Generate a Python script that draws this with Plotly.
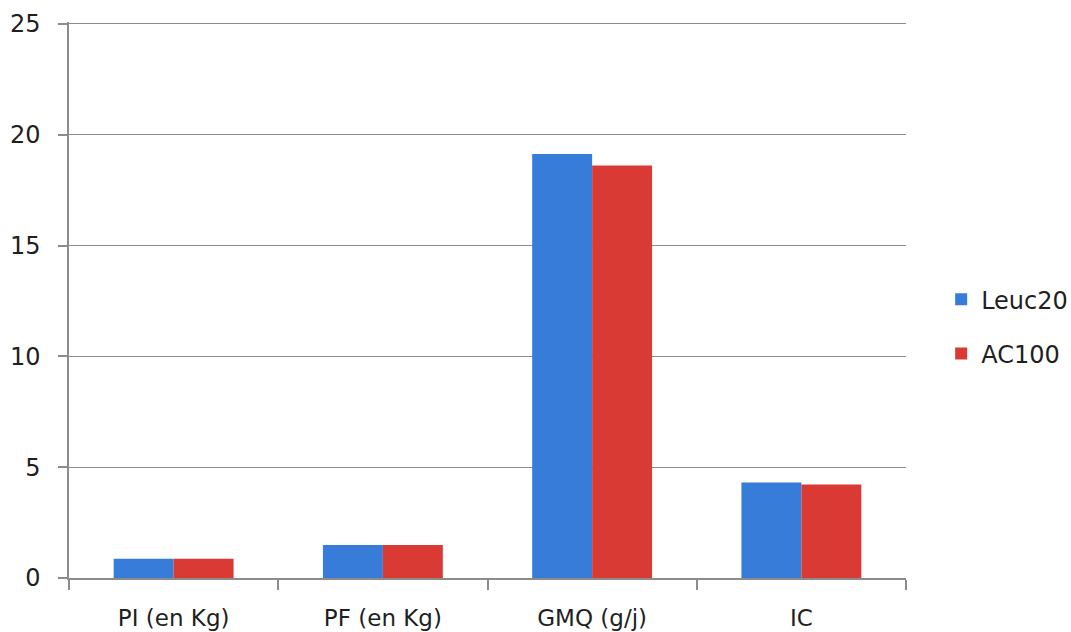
import plotly.graph_objects as go

categories = ["PI (en Kg)", "PF (en Kg)", "GMQ (g/j)", "IC"]
leuc20 = [0.87, 1.49, 19.13, 4.31]
ac100 = [0.87, 1.49, 18.62, 4.22]

family = "DejaVu Sans, Verdana, sans-serif"
ink = "#1f1f1f"
axis_grey = "#8c8c8c"

fig = go.Figure()
fig.add_trace(go.Bar(name="Leuc20", x=categories, y=leuc20,
                     marker=dict(color="#367CD8", line=dict(width=0)),
                     legendgroup="a"))
fig.add_trace(go.Bar(name="AC100", x=categories, y=ac100,
                     marker=dict(color="#D93A34", line=dict(width=0)),
                     legendgroup="b"))

fig.update_layout(
    width=1071, height=632,
    margin=dict(l=69, r=165, t=22, b=54, autoexpand=False),
    paper_bgcolor="white", plot_bgcolor="white",
    font=dict(family=family, size=20, color=ink),
    barmode="group", bargap=0.427, bargroupgap=0,
    showlegend=True,
    legend=dict(x=1.042, xanchor="left", y=0.452, yanchor="middle",
                xref="paper", yref="paper",
                font=dict(family=family, size=24, color=ink),
                tracegroupgap=20, itemwidth=30,
                bgcolor="rgba(0,0,0,0)"),
)
fig.update_xaxes(
    type="category", showline=True, linecolor=axis_grey, linewidth=1.5,
    ticks="outside", tickson="boundaries", ticklen=10, tickcolor=axis_grey,
    tickwidth=1.5, showgrid=False, ticklabelstandoff=19, automargin=False,
    tickfont=dict(size=23),
)
fig.update_yaxes(
    range=[0, 25.09], tickvals=[0, 5, 10, 15, 20, 25], showline=True,
    linecolor=axis_grey, linewidth=1.5,
    ticks="outside", ticklen=9, tickcolor=axis_grey, tickwidth=1.5,
    showgrid=True, gridcolor=axis_grey, gridwidth=1.2, zeroline=False,
    ticklabelstandoff=13, tickfont=dict(size=24), automargin=False,
)

fig.write_html("out.html")
